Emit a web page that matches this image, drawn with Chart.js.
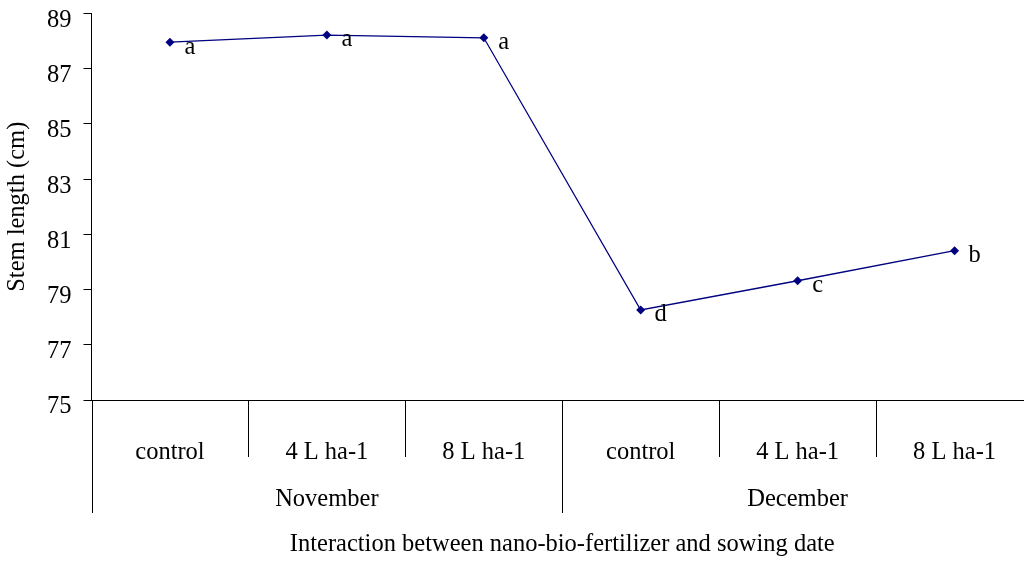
<!DOCTYPE html>
<html>
<head>
<meta charset="utf-8">
<script src="https://cdn.jsdelivr.net/npm/chart.js@4.4.1/dist/chart.umd.min.js"></script>
<style>
  html, body { margin: 0; padding: 0; background: #fff; overflow: hidden; }
  #wrap { width: 1040px; height: 563px; position: relative; }
</style>
</head>
<body>
<div id="wrap"><canvas id="c"></canvas></div>
<script>
// ---- data ----
const categories = ['control', '4 L ha-1', '8 L ha-1', 'control', '4 L ha-1', '8 L ha-1'];
const groups = ['November', 'December'];
const groupSizes = [3, 3];
const stemLength = [87.96, 88.22, 88.12, 78.26, 79.32, 80.41];
const letters = ['a', 'a', 'a', 'd', 'c', 'b'];
const yTitle = 'Stem length (cm)';
const xTitle = 'Interaction between nano-bio-fertilizer and sowing date';

const FONT = 'Liberation Serif, Times New Roman, serif';
const FS = 24.5;

const groupPlugin = {
  id: 'groupAxis',
  afterDraw(chart) {
    const ctx = chart.ctx;
    const xs = chart.scales.x;
    const area = chart.chartArea;
    const n = categories.length;
    const bound = i => i === 0 ? xs.left : (i === n ? xs.right :
      (xs.getPixelForValue(i - 1) + xs.getPixelForValue(i)) / 2);
    const crisp = v => Math.round(v) + 0.5;
    const groupStarts = new Set();
    let s = 0;
    groupSizes.forEach(g => { groupStarts.add(s); s += g; });
    groupStarts.add(n);
    ctx.save();
    ctx.strokeStyle = '#000';
    ctx.lineWidth = 1;
    ctx.beginPath();
    for (let i = 0; i <= n; i++) {
      const x = crisp(bound(i));
      const len = groupStarts.has(i) ? 113 : 57;
      ctx.moveTo(x, area.bottom);
      ctx.lineTo(x, area.bottom + len);
    }
    ctx.stroke();
    ctx.fillStyle = '#000';
    ctx.font = FS + 'px ' + FONT;
    ctx.textAlign = 'center';
    ctx.textBaseline = 'middle';
    let start = 0;
    groups.forEach((g, gi) => {
      const a = bound(start), b = bound(start + groupSizes[gi]);
      ctx.fillText(g, (a + b) / 2, area.bottom + 99.7);
      start += groupSizes[gi];
    });
    ctx.restore();
  },
  afterDatasetsDraw(chart) {
    const ctx = chart.ctx;
    const meta = chart.getDatasetMeta(0);
    ctx.save();
    ctx.fillStyle = '#000';
    ctx.font = FS + 'px ' + FONT;
    ctx.textAlign = 'center';
    ctx.textBaseline = 'middle';
    meta.data.forEach((pt, i) => {
      ctx.fillText(letters[i], pt.x + 20, pt.y + 5);
    });
    ctx.restore();
  }
};

new Chart(document.getElementById('c'), {
  type: 'line',
  data: {
    labels: categories,
    datasets: [{
      data: stemLength,
      borderColor: '#000080',
      backgroundColor: '#000080',
      borderWidth: 1.3,
      pointStyle: 'rectRot',
      pointRadius: 4.5,
      pointBorderWidth: 0,
      pointBackgroundColor: '#000080',
      tension: 0,
      fill: false
    }]
  },
  options: {
    responsive: true,
    maintainAspectRatio: false,
    animation: false,
    layout: { padding: { top: 0, right: 7, bottom: 0, left: 0 } },
    plugins: { legend: { display: false }, tooltip: { enabled: false } },
    scales: {
      x: {
        type: 'category',
        offset: true,
        grid: { display: false },
        border: { display: true, color: '#000', width: 1 },
        ticks: { color: '#000', font: { family: FONT, size: FS }, padding: 30, maxRotation: 0, autoSkip: false },
        title: { display: true, text: xTitle, color: '#000', font: { family: FONT, size: FS }, padding: { top: 0, bottom: 3.6 } },
        afterFit(scale) { scale.height = 163; }
      },
      y: {
        min: 75,
        max: 89,
        grid: { drawOnChartArea: false, drawTicks: true, tickLength: 8, color: '#000' },
        border: { display: true, color: '#000', width: 1 },
        ticks: { stepSize: 2, color: '#000', font: { family: FONT, size: FS, lineHeight: 1.1 }, padding: 12, labelOffset: 7 },
        title: { display: true, text: yTitle, color: '#000', font: { family: FONT, size: FS }, padding: { top: 3.3, bottom: 0 } },
        afterFit(scale) { scale.width = 91.5; scale.paddingTop = 13.5; scale.paddingBottom = 0; }
      }
    }
  },
  plugins: [groupPlugin]
});
</script>
</body>
</html>
